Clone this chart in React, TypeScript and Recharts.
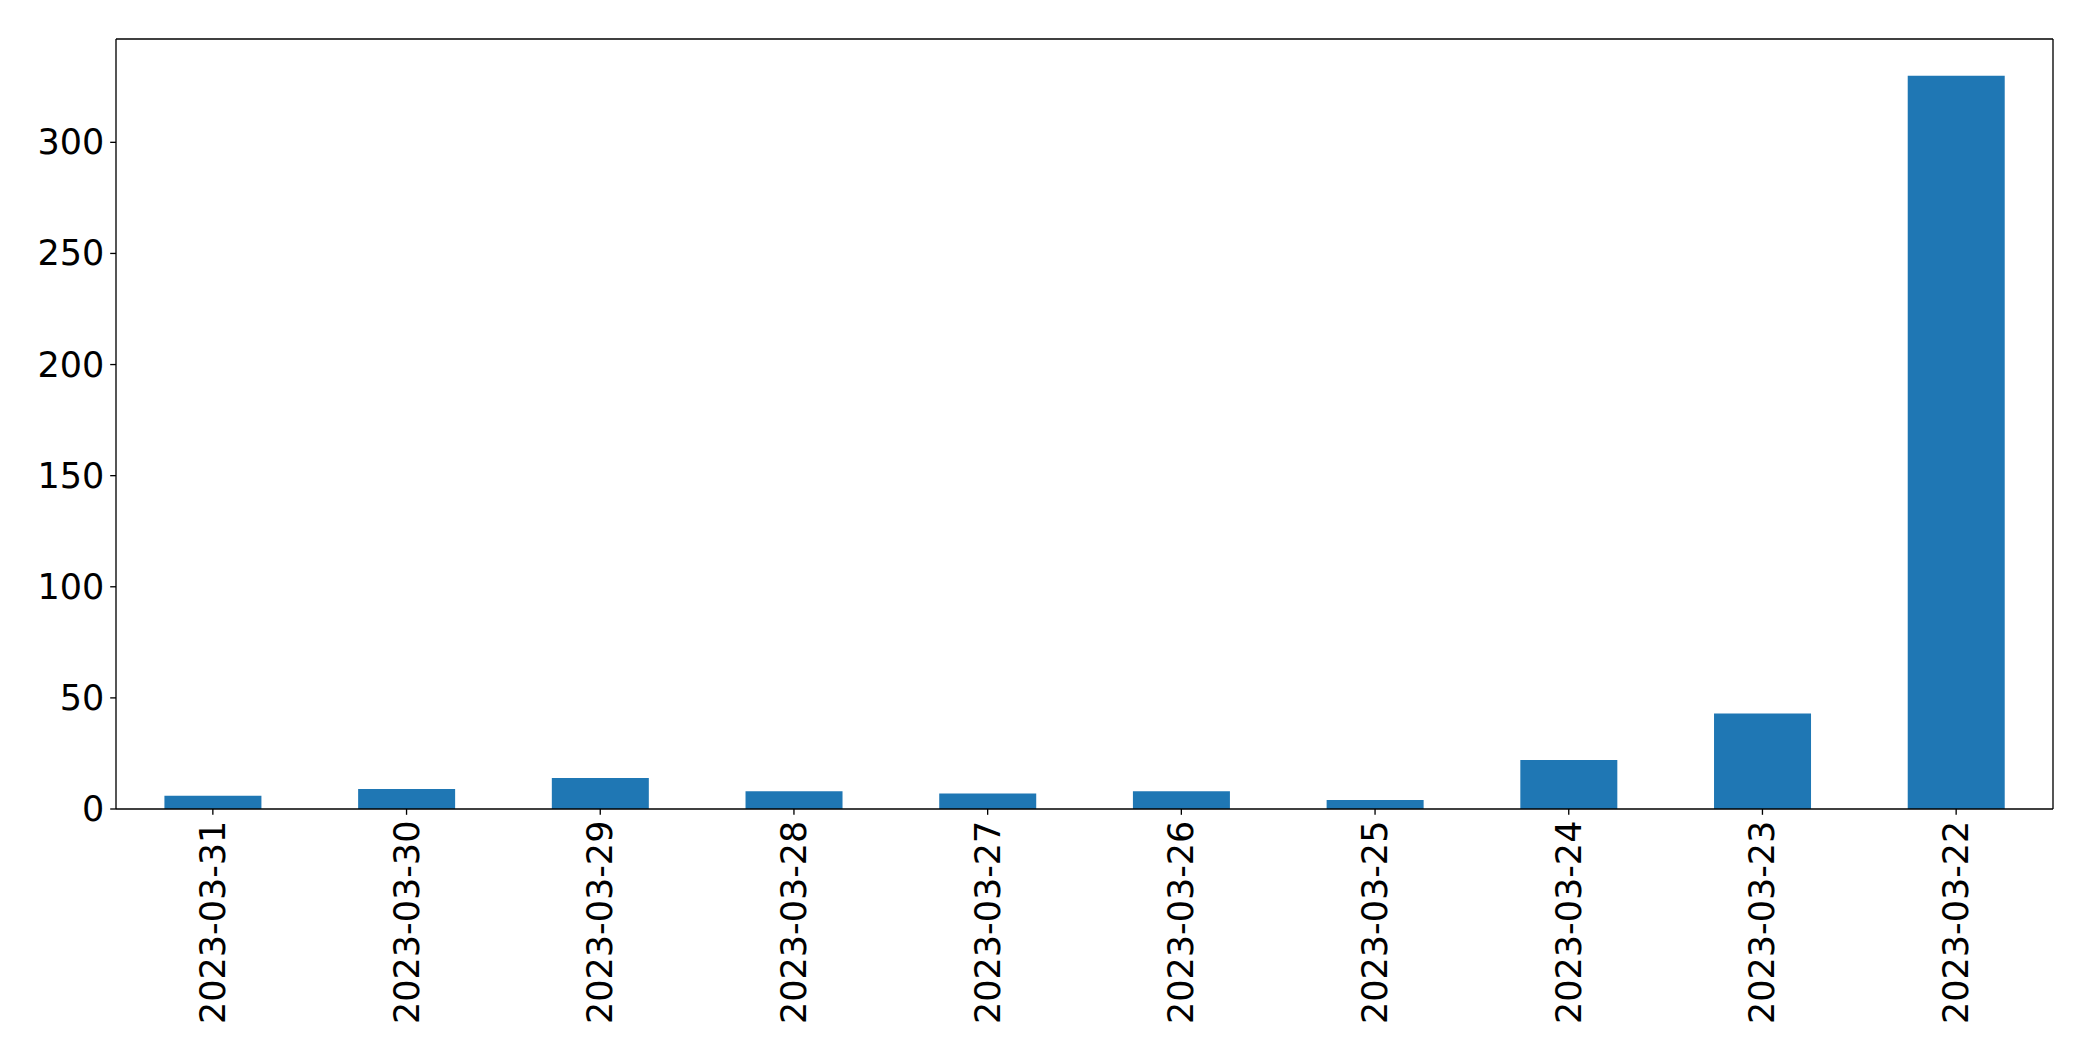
import React from 'react'
import { ComposedChart, Bar, Line, XAxis, YAxis } from 'recharts'

const dates = [
  '2023-03-31', '2023-03-30', '2023-03-29', '2023-03-28', '2023-03-27',
  '2023-03-26', '2023-03-25', '2023-03-24', '2023-03-23', '2023-03-22',
]
const counts = [6, 9, 14, 8, 7, 8, 4, 22, 43, 330]
const yTicks = [0, 50, 100, 150, 200, 250, 300]

const data = dates.map((d, i) => ({ date: d, count: counts[i] }))

const W = 2093
const H = 1061
const FONT = 'DejaVu Sans'
const FS = 35
const LINE = 1.33

function DateTick(props: any) {
  const { x, y, payload } = props
  return (
    <text
      x={x}
      y={y}
      transform={`rotate(-90, ${x}, ${y})`}
      textAnchor="end"
      dominantBaseline="central"
      fontFamily={FONT}
      fontSize={FS}
      fill="#000"
    >
      {payload.value}
    </text>
  )
}

function CountTick(props: any) {
  const { x, y, payload } = props
  return (
    <text x={x} y={y} textAnchor="end" dominantBaseline="central" fontFamily={FONT} fontSize={FS} fill="#000">
      {payload.value}
    </text>
  )
}

export default function App() {
  const ymax = Math.max(...counts) * 1.05
  return (
    <div style={{ position: 'absolute', left: 0, top: 0, width: W, height: H, background: '#fff' }}>
      <ComposedChart
        width={W}
        height={H}
        data={data}
        margin={{ top: 38, right: 39, left: 0, bottom: 0 }}
        barCategoryGap="25%"
      >
        <XAxis
          dataKey="date"
          height={252}
          tick={<DateTick />}
          tickLine={{ stroke: '#000', strokeWidth: LINE }}
          tickSize={5.8}
          tickMargin={5.8}
          axisLine={{ stroke: '#000', strokeWidth: LINE }}
          interval={0}
        />
        <XAxis
          xAxisId="top"
          dataKey="date"
          orientation="top"
          height={1}
          tick={false}
          tickLine={false}
          axisLine={{ stroke: '#000', strokeWidth: LINE }}
        />
        <YAxis
          width={116}
          domain={[0, ymax]}
          ticks={yTicks}
          tick={<CountTick />}
          tickLine={{ stroke: '#000', strokeWidth: LINE }}
          tickSize={5.8}
          tickMargin={5.8}
          axisLine={{ stroke: '#000', strokeWidth: LINE }}
          allowDataOverflow
        />
        <YAxis
          yAxisId="right"
          orientation="right"
          width={1}
          domain={[0, ymax]}
          tick={false}
          tickLine={false}
          axisLine={{ stroke: '#000', strokeWidth: LINE }}
        />
        <Bar dataKey="count" fill="#1f77b4" isAnimationActive={false} />
        {/* invisible series so the top/right frame axes get drawn */}
        <Line
          xAxisId="top"
          yAxisId="right"
          dataKey="count"
          stroke="none"
          dot={false}
          activeDot={false}
          legendType="none"
          isAnimationActive={false}
        />
      </ComposedChart>
    </div>
  )
}
